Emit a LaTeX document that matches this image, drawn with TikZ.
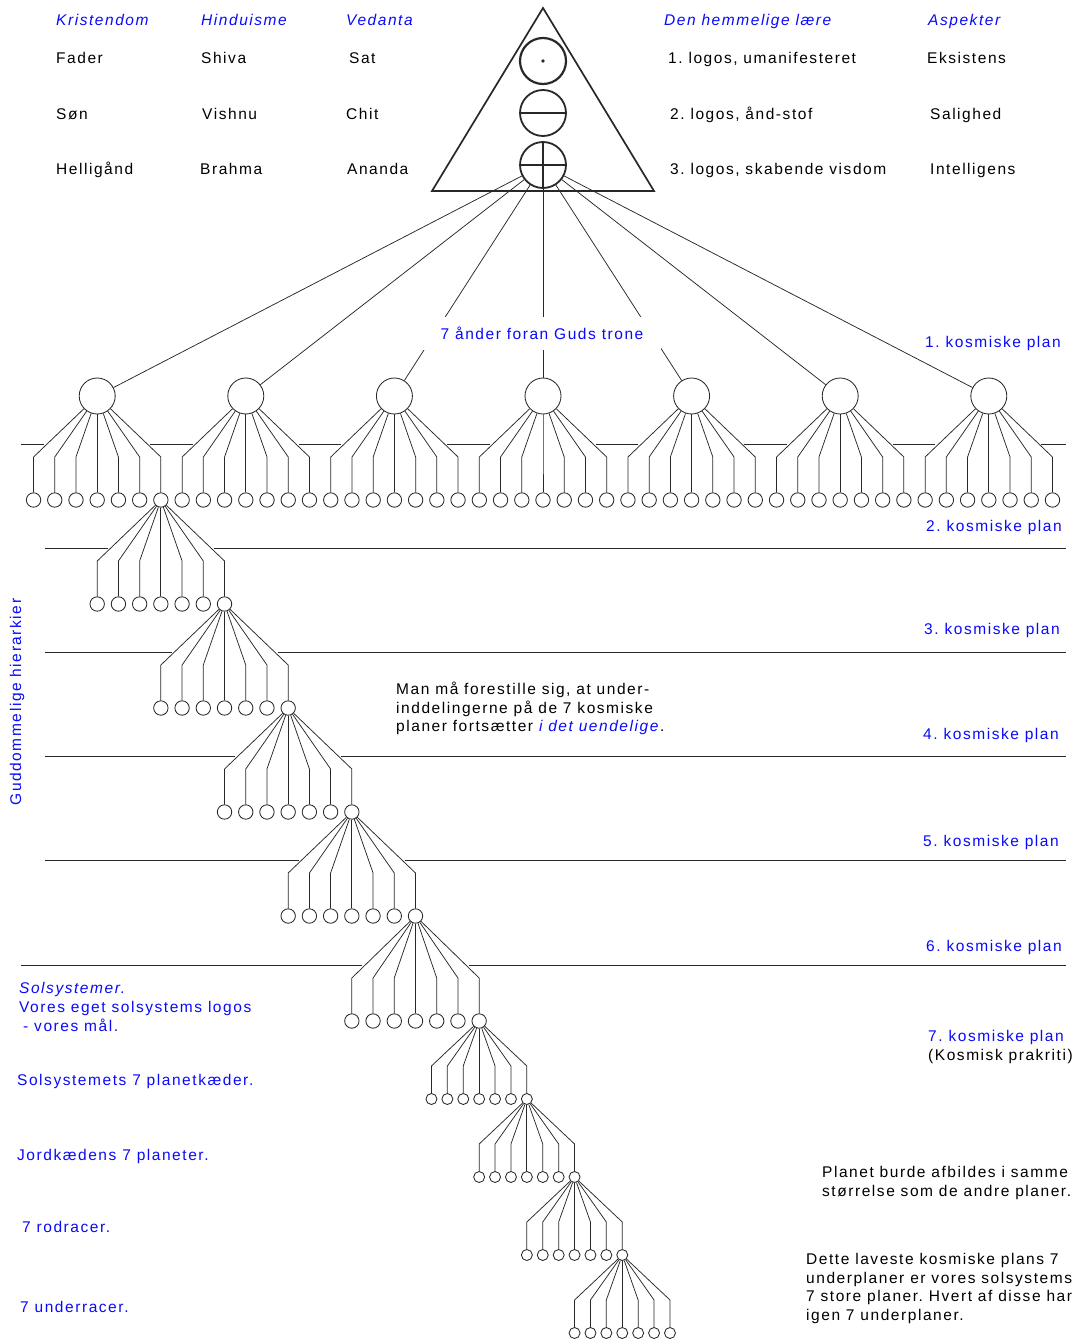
\documentclass[tikz,border=0pt]{standalone}
\usepackage{fontspec}
\setmainfont[LetterSpace=10]{Liberation Sans}
\definecolor{lblue}{RGB}{10,10,250}
\definecolor{lgrey}{RGB}{40,40,40}

\tikzset{
    txt/.style={inner sep=0pt, font=\fontsize{15.5}{18.6}\selectfont\frenchspacing},
    lbl/.style={txt, anchor=base west, yshift=-5.5pt},
    mlbl/.style={txt, anchor=west, align=left},
    blbl/.style={lbl, text=lblue},
    hlbl/.style={blbl, font=\fontsize{15.5}{18.6}\selectfont\itshape},
    planline/.style={line width=0.8pt, lgrey},
    fanline/.style={line width=0.75pt, lgrey},
    bigc/.style={circle, draw=lgrey, line width=0.85pt, inner sep=0pt, minimum size=36pt},
    midc/.style={circle, draw=lgrey, line width=0.85pt, inner sep=0pt, minimum size=14.4pt},
    smallc/.style={circle, draw=lgrey, line width=0.85pt, inner sep=0pt, minimum size=11pt},
    logosc/.style={circle, draw=lgrey, line width=1.8pt, inner sep=0pt, minimum size=46pt}
}

% parent, name of fan, step, y of the elbows, y of the children, style of the children
\newcommand{\drawfan}[6]{
    \path (#1); \pgfgetlastxy{\parentx}{\parenty}
    \foreach \k in {-3,...,3} {
        \pgfmathsetmacro{\cx}{\parentx/1pt+\k*#3}
        \coordinate (#2e\k) at (\cx,#4);
        \node[#6] (#2c\k) at (\cx,#5) {};
        \draw[fanline] (#1) -- (#2e\k) -- (#2c\k);
    }
}

\begin{document}
\begin{tikzpicture}[x=1pt, y=-1pt]
    \useasboundingbox (0,0) rectangle (1078,1341);

    % the triangle
    \draw[line width=1.7pt, lgrey, line join=miter] (543,8) -- (654,191) -- (432,191) -- cycle;
    \node[logosc, line width=2.2pt] (logosa) at (543,61) {};
    \node[logosc] (logosb) at (543,113) {};
    \node[logosc] (logosc) at (543,165) {};
    \fill[lgrey] (logosa.center) circle (1.8pt);
    \draw[line width=1.6pt, lgrey] (logosb.west) -- (logosb.east);
    \draw[line width=1.6pt, lgrey] (logosc.west) -- (logosc.east);
    \draw[line width=1.6pt, lgrey] (logosc.north) -- (logosc.south);

    % the seven spirits
    \foreach \i/\x in {1/97.2,2/245.8,3/394.4,4/543,5/691.6,6/840.2,7/988.8} {
        \node[bigc] (ande\i) at (\x,396) {};
        \draw[fanline] (logosc) -- (ande\i);
        \drawfan{ande\i}{top\i}{21.22}{457}{500}{midc}
    }
    \node[txt, text=lblue, fill=white, minimum width=238pt, minimum height=33pt] (trone) at (542,333.5) {7 ånder foran Guds trone};

    % the planes
    \foreach \xa/\xb in {21/44,150/193,299/341,447/490,596/638,744/787,893/935,1041/1066}
        \draw[planline] (\xa,444) -- (\xb,444);
    \foreach \y/\xa/\xb/\xc in {548/45/108/214, 652/45/172/278, 756/45/235/341, 860/45/299/405, 965/21/362/469} {
        \draw[planline] (\xa,\y) -- (\xb,\y);
        \draw[planline] (\xc,\y) -- (1066,\y);
    }

    % the chain of fans
    \drawfan{top1c3}{a}{21.22}{561}{604}{midc}
    \drawfan{ac3}{b}{21.22}{665}{708}{midc}
    \drawfan{bc3}{c}{21.22}{769}{812}{midc}
    \drawfan{cc3}{d}{21.22}{873}{916}{midc}
    \drawfan{dc3}{e}{21.22}{978}{1021}{midc}
    \drawfan{ec3}{f}{15.9}{1066}{1099}{smallc}
    \drawfan{fc3}{g}{15.9}{1144}{1177}{smallc}
    \drawfan{gc3}{h}{15.9}{1222}{1255}{smallc}
    \drawfan{hc3}{i}{15.9}{1300}{1333}{smallc}

    % headings
    \node[hlbl] (krist) at (56,20) {Kristendom};
    \node[hlbl] (hindu) at (201,20) {Hinduisme};
    \node[hlbl] (vedanta) at (346,20) {Vedanta};
    \node[hlbl] (laere) at (664,20) {Den hemmelige lære};
    \node[hlbl] (aspekt) at (928,20) {Aspekter};

    \node[lbl] (fader) at (56,58) {Fader};
    \node[lbl] (soen) at (56,114) {Søn};
    \node[lbl] (hellig) at (56,169) {Helligånd};
    \node[lbl] (shiva) at (201,58) {Shiva};
    \node[lbl] (vishnu) at (202,114) {Vishnu};
    \node[lbl] (brahma) at (200,169) {Brahma};
    \node[lbl] (sat) at (349,58) {Sat};
    \node[lbl] (chit) at (346,114) {Chit};
    \node[lbl] (ananda) at (347,169) {Ananda};
    \node[lbl] (l1) at (668,58) {1. logos, umanifesteret};
    \node[lbl] (l2) at (670,114) {2. logos, ånd-stof};
    \node[lbl] (l3) at (670,169) {3. logos, skabende visdom};
    \node[lbl] (eks) at (927,58) {Eksistens};
    \node[lbl] (sal) at (930,114) {Salighed};
    \node[lbl] (intel) at (930,169) {Intelligens};

    % right side
    \node[blbl] (p1) at (925,342) {1. kosmiske plan};
    \node[blbl] (p2) at (926,526) {2. kosmiske plan};
    \node[blbl] (p3) at (924,629) {3. kosmiske plan};
    \node[blbl] (p4) at (923,734) {4. kosmiske plan};
    \node[blbl] (p5) at (923,841) {5. kosmiske plan};
    \node[blbl] (p6) at (926,946) {6. kosmiske plan};
    \node[blbl] (p7) at (928,1036) {7. kosmiske plan};
    \node[lbl] (prakriti) at (928,1055) {(Kosmisk prakriti)};
    \node[mlbl] (planet) at (822,1183) {Planet burde afbildes i samme\\størrelse som de andre planer.};
    \node[mlbl] (laveste) at (806,1288.5) {Dette laveste kosmiske plans 7\\underplaner er vores solsystems\\7 store planer. Hvert af disse har\\igen 7 underplaner.};

    % left side
    \node[txt, text=lblue, rotate=90] (gud) at (17,702) {Guddommelige hierarkier};
    \node[mlbl, text=lblue] (sol) at (19,1007) {\textit{Solsystemer.}\\Vores eget solsystems logos\\\hspace*{4pt}- vores mål.};
    \node[blbl] (kaeder) at (17,1080) {Solsystemets 7 planetkæder.};
    \node[blbl] (jord) at (17,1155) {Jordkædens 7 planeter.};
    \node[blbl] (rod) at (22,1227) {7 rodracer.};
    \node[blbl] (under) at (20,1307) {7 underracer.};

    % middle
    \node[mlbl] (man) at (396,708.5) {Man må forestille sig, at under-\\inddelingerne på de 7 kosmiske\\planer fortsætter \textcolor{lblue}{\textit{i det uendelige}}.};
\end{tikzpicture}
\end{document}
